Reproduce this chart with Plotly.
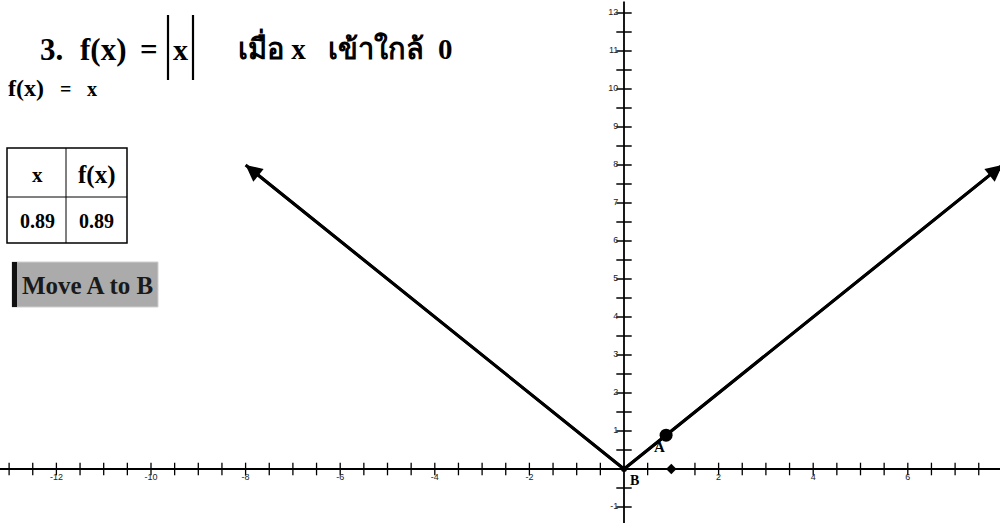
import numpy as np
import plotly.graph_objects as go

# ---- data ----
curve_x = [-8, 0, 8]
curve_y = [abs(v) for v in curve_x]
point_a = (0.89, 0.89)
point_b = (0, 0)
marker_x_axis = (1, 0)
x_tick_labels = [-12, -10, -8, -6, -4, -2, 2, 4, 6]
y_tick_labels = [-1, 1, 2, 3, 4, 5, 6, 7, 8, 9, 10, 11, 12]
x_minor = list(np.arange(-13, 8.0, 0.5))
y_minor = list(np.arange(-1, 12.5, 0.5))
table_header = ["x", "f(x)"]
table_values = ["0.89", "0.89"]

W, H = 1000, 523
X0, SX = 624, 47.3   # pixel of origin, px per unit
Y0, SY = 469, 38.0
xr = [-X0 / SX, (W - X0) / SX]
yr = [-(H - Y0) / SY, Y0 / SY]

def px(x):  # paper coords from pixel
    return x / W
def py(y):
    return 1 - y / H

SERIF = "Liberation Serif, Times New Roman, serif"
SANS = "Liberation Sans, Arial, sans-serif"

fig = go.Figure()

# axes lines
fig.add_trace(go.Scatter(x=[xr[0], xr[1]], y=[0, 0], mode="lines",
                         line=dict(color="black", width=1.8), hoverinfo="skip"))
fig.add_trace(go.Scatter(x=[0, 0], y=[yr[0], 12.3], mode="lines",
                         line=dict(color="black", width=1.8), hoverinfo="skip"))
# ticks
xt = [v for v in x_minor if v not in (0, 1)]
yt = [v for v in y_minor if v != 0]
fig.add_trace(go.Scatter(x=xt, y=[0] * len(xt),
                         mode="markers", marker=dict(symbol="line-ns", size=9, line=dict(color="black", width=1.3)),
                         hoverinfo="skip"))
fig.add_trace(go.Scatter(x=[0] * len(yt), y=yt,
                         mode="markers", marker=dict(symbol="line-ew", size=11, line=dict(color="black", width=1.5)),
                         hoverinfo="skip"))
# tick labels
fig.add_trace(go.Scatter(x=x_tick_labels, y=[-0.12] * len(x_tick_labels), mode="text",
                         text=[str(v) for v in x_tick_labels], textposition="bottom center",
                         textfont=dict(family=SANS, size=9, color="#222"), hoverinfo="skip"))
fig.add_trace(go.Scatter(x=[-0.12] * len(y_tick_labels), y=y_tick_labels, mode="text",
                         text=[str(v) for v in y_tick_labels], textposition="middle left",
                         textfont=dict(family=SANS, size=9, color="#222"), hoverinfo="skip"))

# |x| curve
fig.add_trace(go.Scatter(x=curve_x, y=curve_y, mode="lines",
                         line=dict(color="black", width=3), hoverinfo="skip"))
# arrowheads
for i in (0, 2):
    fig.add_annotation(x=curve_x[i], y=curve_y[i], ax=curve_x[1], ay=curve_y[1],
                       xref="x", yref="y", axref="x", ayref="y", text="",
                       showarrow=True, arrowhead=2, arrowsize=1.1, arrowwidth=3, arrowcolor="black")

# points
fig.add_trace(go.Scatter(x=[point_a[0]], y=[point_a[1]], mode="markers",
                         marker=dict(color="black", size=13), hoverinfo="skip"))
fig.add_trace(go.Scatter(x=[point_b[0]], y=[point_b[1]], mode="markers",
                         marker=dict(color="black", size=6), hoverinfo="skip"))
fig.add_trace(go.Scatter(x=[marker_x_axis[0]], y=[marker_x_axis[1]], mode="markers",
                         marker=dict(color="black", size=8, symbol="diamond"), hoverinfo="skip"))
fig.add_annotation(x=point_a[0], y=point_a[1], text="<b>A</b>", showarrow=False,
                   xshift=-7, yshift=-12, font=dict(family=SERIF, size=15, color="black"))
fig.add_annotation(x=point_b[0], y=point_b[1], text="<b>B</b>", showarrow=False,
                   xshift=10, yshift=-11, font=dict(family=SERIF, size=14, color="black"))

def label(xp, yp, text, size, anchor="left"):
    fig.add_annotation(x=px(xp), y=py(yp), xref="paper", yref="paper", xanchor=anchor, yanchor="middle",
                       text=f"<b>{text}</b>", showarrow=False, font=dict(family=SERIF, size=size, color="black"))

# title pieces
label(38, 49, "3.", 31)
label(78, 49, "f(x)", 31)
label(149, 49, "=", 31, "center")
label(180, 49, "x", 30, "center")
for bx in (168, 193):
    fig.add_shape(type="line", xref="paper", yref="paper", x0=px(bx), x1=px(bx), y0=py(15), y1=py(80),
                  line=dict(color="black", width=2.2))
label(236, 47, "เมื่อ x   เข้าใกล้  0", 29)
# sub-label
label(6, 88, "f(x)", 24)
label(65, 89, "=", 20, "center")
label(92, 89, "x", 20, "center")

# table
fig.add_shape(type="rect", xref="paper", yref="paper", x0=px(7), x1=px(127), y0=py(148), y1=py(243),
              line=dict(color="black", width=1.5))
fig.add_shape(type="line", xref="paper", yref="paper", x0=px(7), x1=px(127), y0=py(197), y1=py(197),
              line=dict(color="black", width=1))
fig.add_shape(type="line", xref="paper", yref="paper", x0=px(66), x1=px(66), y0=py(148), y1=py(243),
              line=dict(color="black", width=1))
for cx, h, v, hs in zip((37, 96), table_header, table_values, (21, 25)):
    label(cx, 175, h, hs, "center")
    label(cx, 221, v, 20, "center")

# button
fig.add_shape(type="rect", xref="paper", yref="paper", x0=px(12), x1=px(158), y0=py(262), y1=py(307),
              fillcolor="#ababab", line=dict(color="#cfcfcf", width=1))
fig.add_shape(type="rect", xref="paper", yref="paper", x0=px(12), x1=px(17), y0=py(262), y1=py(307),
              fillcolor="#111", line=dict(width=0))
fig.add_annotation(x=px(87), y=py(285), xref="paper", yref="paper", xanchor="center", yanchor="middle",
                   text="<b>Move A to B</b>", showarrow=False,
                   font=dict(family=SERIF, size=25, color="#1a1a1a"))

fig.update_layout(
    width=W, height=H, margin=dict(l=0, r=0, t=0, b=0),
    paper_bgcolor="white", plot_bgcolor="white", showlegend=False,
    xaxis=dict(range=xr, visible=False, fixedrange=True),
    yaxis=dict(range=yr, visible=False, fixedrange=True),
)
fig.write_html("out.html", config={"displayModeBar": False},
               post_script="document.body.style.margin='0px';document.body.style.overflow='hidden';")
